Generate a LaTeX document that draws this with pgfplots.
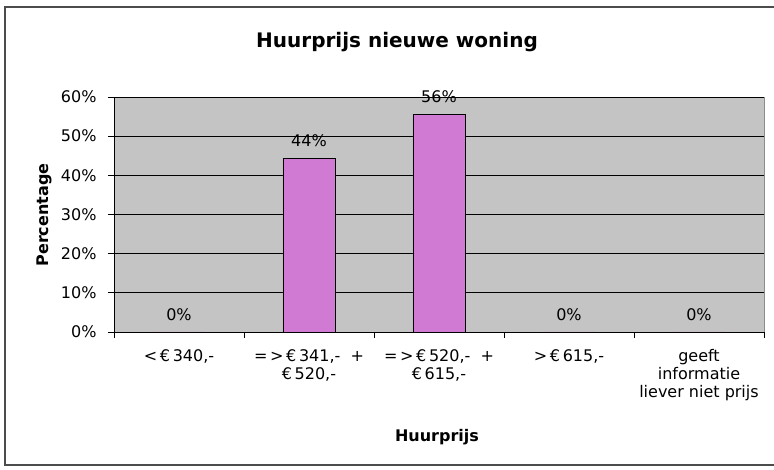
\documentclass[border=0pt]{standalone}
\usepackage{pgfplots}
\pgfplotsset{compat=1.18}
\usepackage{fontspec}
\setmainfont{DejaVu Sans}
\definecolor{barfill}{RGB}{208,122,212}
\definecolor{plotbg}{RGB}{196,196,196}
\begin{document}
\begin{tikzpicture}[x=1pt,y=1pt]
\useasboundingbox (-114,-138) rectangle (660,332);
\fill[white] (-114,-138) rectangle (660,332);
\draw[black!70,line width=1.2pt] (670,325) -- (-109,325) -- (-109,-133) -- (670,-133);
\begin{axis}[
  at={(0,0)}, anchor=south west,
  scale only axis, width=650pt, height=235pt,
  xmin=-0.5, xmax=4.5, ymin=0, ymax=60,
  axis background/.style={fill=plotbg, draw=black!45},
  axis x line*=bottom, axis y line*=left,
  axis line style={black, line width=0.8pt},
  x axis line style={-}, y axis line style={-},
  ytick={0,10,...,60},
  yticklabel={\pgfmathprintnumber{\tick}\%},
  /pgf/number format/assume math mode=true,
  ymajorgrids, grid style={black, line width=0.8pt},
  xtick={0,1,2,3,4},
  xticklabels={{<\,€\,340,-}, {=\,>\,€\,341,-\ \ +\\€\,520,-}, {=\,>\,€\,520,-\ \ +\\€\,615,-}, {>\,€\,615,-}, {geeft\\informatie\\liever niet prijs}},
  major x tick style={draw=none},
  minor xtick={-0.5,0.5,1.5,2.5,3.5,4.5},
  minor x tick style={black, line width=0.8pt},
  tick align=outside, major tick length=6pt, minor tick length=6pt,
  y tick style={black, line width=0.8pt},
  ticklabel style={font=\fontsize{16}{18}\selectfont},
  xticklabel style={align=center, yshift=-8pt},
  yticklabel style={xshift=-8pt},
  ybar, bar width=52pt,
  nodes near coords,
  point meta=explicit symbolic,
  every node near coord/.style={font=\fontsize{16}{18}\selectfont, black, anchor=south, yshift=8pt},
]
\addplot[fill=barfill, draw=black, line width=0.8pt] table[meta=label] {
x y label
0 0 0\%
1 44.4 44\%
2 55.6 56\%
3 0 0\%
4 0 0\%
};
\end{axis}
\node[font=\bfseries\fontsize{20}{24}\selectfont] at (283,290) {Huurprijs nieuwe woning};
\node[font=\bfseries\fontsize{16}{18}\selectfont, rotate=90] at (-70,117) {Percentage};
\node[font=\bfseries\fontsize{16}{18}\selectfont] at (323,-105) {Huurprijs};
\end{tikzpicture}
\end{document}
